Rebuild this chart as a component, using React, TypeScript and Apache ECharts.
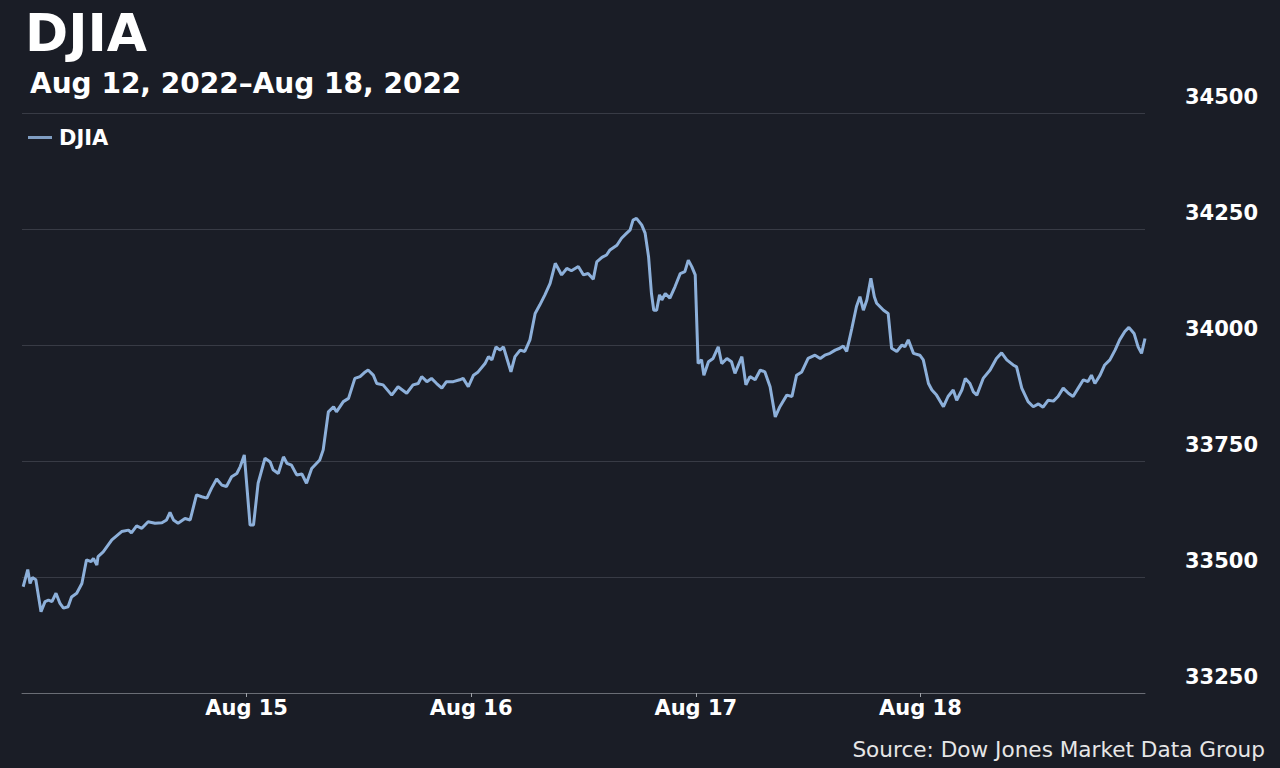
import React, { useEffect, useRef } from "react";
import * as echarts from "echarts";

const chartTitle = "DJIA";
const dateRange = "Aug 12, 2022\u2013Aug 18, 2022";
const seriesName = "DJIA";
const sourceNote = "Source: Dow Jones Market Data Group";

// trading-day labels; each session is 390 minutes long
const dayLabels = ["Aug 12", "Aug 15", "Aug 16", "Aug 17", "Aug 18"];
const sessionMinutes = 390;
const labeledDayIndexes = [1, 2, 3, 4];

// y-axis ticks
const yMin = 33250;
const yMax = 34500;
const yStep = 250;

// minutes elapsed since the Aug 12 open (sessions placed back to back)
const minutes = [
  2, 10, 14, 18, 24, 33, 40, 46, 52, 59, 66, 72, 80, 86, 95, 104, 112, 120, 124, 130,
  132, 141, 156, 173, 185, 190, 199, 208, 219, 231, 243, 251, 257, 263, 271, 283, 292, 303, 312, 321,
  329, 338, 347, 355, 364, 373, 379, 386, 396, 402, 410, 422, 431, 436, 445, 454, 460, 468, 477, 486,
  494, 503, 517, 523, 532, 541, 546, 558, 567, 578, 587, 596, 601, 610, 616, 627, 642, 653, 668, 679,
  688, 694, 703, 711, 720, 729, 737, 749, 760, 766, 775, 784, 792, 804, 810, 816, 823, 830, 836, 842,
  849, 856, 865, 873, 882, 891, 899, 908, 917, 926, 931, 937, 946, 954, 966, 975, 983, 992, 998, 1007,
  1015, 1021, 1033, 1041, 1050, 1056, 1061, 1067, 1076, 1082, 1088, 1093, 1097, 1102, 1107, 1111, 1117, 1125, 1134, 1143,
  1151, 1157, 1163, 1169, 1174, 1180, 1184, 1192, 1200, 1209, 1215, 1224, 1232, 1238, 1250, 1257, 1264, 1273, 1282, 1290,
  1299, 1308, 1316, 1328, 1337, 1345, 1354, 1365, 1377, 1386, 1394, 1403, 1412, 1420, 1426, 1432, 1441, 1449, 1455, 1461,
  1467, 1474, 1480, 1484, 1496, 1504, 1510, 1519, 1528, 1533, 1539, 1548, 1559, 1565, 1574, 1580, 1588, 1600, 1608, 1617,
  1623, 1632, 1638, 1646, 1652, 1658, 1669, 1681, 1692, 1701, 1710, 1721, 1727, 1736, 1747, 1756, 1765, 1773, 1782, 1791,
  1799, 1808, 1817, 1825, 1834, 1843, 1851, 1857, 1863, 1872, 1880, 1889, 1898, 1906, 1915, 1922, 1931, 1938, 1944, 1950,
];

// DJIA level at each of those minutes
const djiaValues = [
  33479, 33516, 33486, 33499, 33494, 33425, 33447, 33450, 33447, 33465, 33443, 33433, 33436, 33457, 33465, 33486, 33537, 33533, 33540, 33526,
  33544, 33554, 33580, 33598, 33601, 33595, 33610, 33605, 33619, 33616, 33617, 33623, 33639, 33623, 33616, 33626, 33623, 33677, 33673, 33670,
  33691, 33711, 33698, 33695, 33716, 33723, 33738, 33763, 33612, 33612, 33702, 33756, 33748, 33731, 33723, 33759, 33745, 33741, 33720, 33722,
  33702, 33734, 33752, 33774, 33856, 33867, 33856, 33878, 33885, 33928, 33932, 33942, 33946, 33935, 33917, 33914, 33892, 33910, 33896, 33914,
  33917, 33932, 33921, 33928, 33917, 33907, 33921, 33921, 33925, 33928, 33910, 33935, 33942, 33960, 33975, 33968, 33996, 33989, 33996, 33971,
  33942, 33975, 33989, 33986, 34011, 34068, 34086, 34108, 34133, 34176, 34165, 34151, 34165, 34160, 34169, 34151, 34154, 34142, 34179, 34189,
  34194, 34205, 34215, 34230, 34241, 34248, 34269, 34273, 34259, 34241, 34190, 34111, 34075, 34075, 34108, 34097, 34111, 34101, 34126, 34154,
  34158, 34183, 34169, 34151, 33960, 33968, 33935, 33964, 33971, 33996, 33960, 33971, 33964, 33939, 33975, 33914, 33932, 33925, 33946, 33942,
  33910, 33845, 33867, 33892, 33889, 33935, 33942, 33971, 33978, 33971, 33978, 33982, 33989, 33993, 33998, 33986, 34036, 34083, 34104, 34075,
  34097, 34144, 34104, 34090, 34075, 34068, 33993, 33986, 34000, 33996, 34011, 33982, 33978, 33968, 33917, 33903, 33892, 33867, 33889, 33903,
  33881, 33903, 33928, 33917, 33899, 33892, 33928, 33946, 33971, 33983, 33968, 33957, 33953, 33907, 33878, 33867, 33873, 33866, 33881, 33879,
  33889, 33907, 33896, 33889, 33907, 33925, 33921, 33935, 33917, 33935, 33957, 33968, 33989, 34011, 34029, 34038, 34025, 33996, 33982, 34014,
];

const FONT = "'DejaVu Sans', Verdana, sans-serif";
const BG = "#1a1d26";
const LINE = "#8db0da";

export default function App() {
  const ref = useRef<HTMLDivElement>(null);

  useEffect(() => {
    document.body.style.margin = "0";
    document.body.style.background = BG;
    if (!ref.current) return;
    const chart = echarts.init(ref.current, null, { renderer: "svg" });
    const data = minutes.map((m, i) => [m, djiaValues[i]]);
    const tickMinutes = labeledDayIndexes.map((d) => d * sessionMinutes);

    chart.setOption({
      animation: false,
      backgroundColor: BG,
      textStyle: { fontFamily: FONT },
      grid: { left: 22, right: 135, top: 113, bottom: 75 },
      legend: {
        show: true,
        left: 28,
        top: 127,
        padding: 0,
        itemWidth: 24,
        itemHeight: 14,
        itemGap: 6,
        symbolKeepAspect: true,
        data: [{ name: seriesName, icon: "path://M0,0h24v3h-24z" }],
        itemStyle: { color: "#7f9dc2" },
        textStyle: { color: "#ffffff", fontSize: 21, fontWeight: "bold", fontFamily: FONT, padding: [0, 0, 0, 2] },
      },
      graphic: [
        {
          type: "text",
          left: 25,
          top: 7,
          style: { text: chartTitle, fill: "#ffffff", font: `bold 52px ${FONT}` },
        },
        {
          type: "text",
          left: 30,
          top: 69,
          style: { text: dateRange, fill: "#ffffff", font: `bold 28px ${FONT}` },
        },
        {
          type: "text",
          right: 15,
          top: 738,
          style: { text: sourceNote, fill: "#e6e6e6", font: `21.6px ${FONT}` },
        },
      ],
      xAxis: {
        type: "value",
        min: 0,
        max: dayLabels.length * sessionMinutes,
        interval: sessionMinutes,
        splitLine: { show: false },
        axisLine: { show: true, lineStyle: { color: "#6a6d75", width: 1 } },
        axisTick: {
          show: true,
          customValues: tickMinutes,
          length: 4,
          lineStyle: { color: "#a0a3aa" },
        },
        axisLabel: {
          customValues: tickMinutes,
          formatter: (v: number) => dayLabels[Math.round(v / sessionMinutes)] ?? "",
          color: "#ffffff",
          fontSize: 21,
          fontWeight: "bold",
          fontFamily: FONT,
          margin: 4,
        },
      },
      yAxis: {
        type: "value",
        position: "right",
        min: yMin,
        max: yMax,
        interval: yStep,
        axisLine: { show: false },
        axisTick: { show: false },
        splitLine: { show: true, lineStyle: { color: "#383b45", width: 1 } },
        axisLabel: {
          formatter: (v: number) => String(v),
          color: "#ffffff",
          fontSize: 21,
          fontWeight: "bold",
          fontFamily: FONT,
          margin: 40,
          verticalAlign: "bottom",
          lineHeight: 32,
        },
      },
      series: [
        {
          name: seriesName,
          type: "line",
          data,
          showSymbol: false,
          symbol: "none",
          lineStyle: { color: LINE, width: 3 },
          itemStyle: { color: LINE },
        },
      ],
    });
    return () => chart.dispose();
  }, []);

  return (
    <div
      ref={ref}
      style={{ position: "fixed", left: 0, top: 0, width: 1280, height: 768 }}
    />
  );
}
